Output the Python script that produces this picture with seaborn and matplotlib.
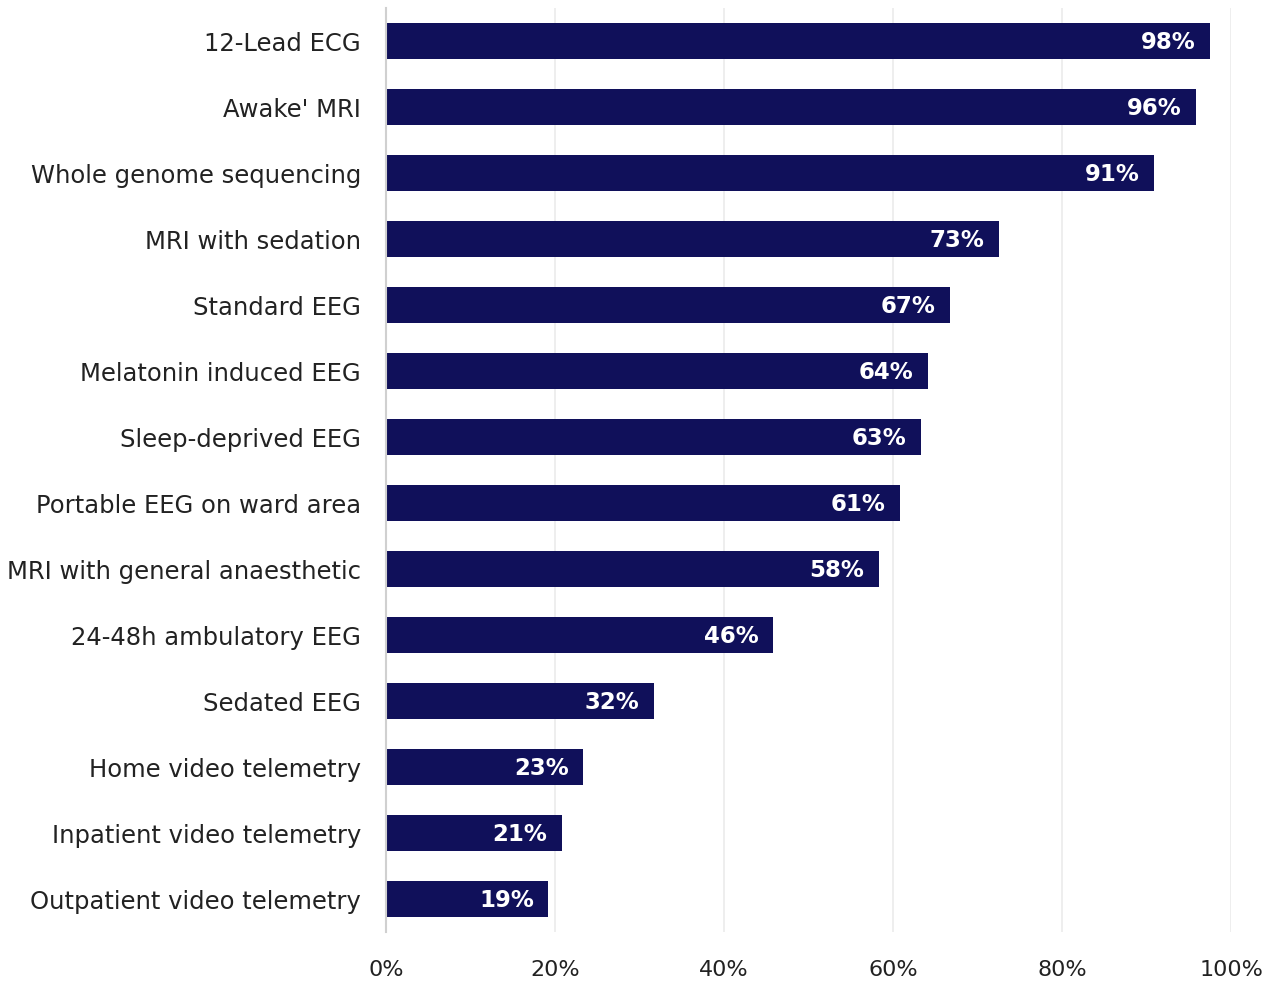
import pandas as pd
import seaborn as sns
import matplotlib.pyplot as plt
from matplotlib.ticker import PercentFormatter

# diagnostic tests availability, share of respondents
tests = ['12-Lead ECG', "Awake' MRI", 'Whole genome sequencing', 'MRI with sedation',
         'Standard EEG', 'Melatonin induced EEG', 'Sleep-deprived EEG',
         'Portable EEG on ward area', 'MRI with general anaesthetic',
         '24-48h ambulatory EEG', 'Sedated EEG', 'Home video telemetry',
         'Inpatient video telemetry', 'Outpatient video telemetry']
shares = [0.975, 0.959, 0.909, 0.725, 0.667, 0.641, 0.633, 0.608, 0.583,
          0.458, 0.317, 0.233, 0.208, 0.192]
labels = ['98%', '96%', '91%', '73%', '67%', '64%', '63%', '61%', '58%',
          '46%', '32%', '23%', '21%', '19%']

df = pd.DataFrame({'test': tests, 'share': shares, 'label': labels})

sns.set_style('white')
plt.rcParams['font.family'] = ['DejaVu Sans']

fig = plt.figure(figsize=(12.71, 9.83), dpi=100)
ax = fig.add_axes([386 / 1271, 1 - 932 / 983, 845 / 1271, 924 / 983])

sns.barplot(data=df, x='share', y='test', color='#10105a', saturation=1,
            width=0.56, linewidth=0, ax=ax)

# white bold value labels inside bar ends
for i, row in df.iterrows():
    ax.text(row['share'] - 0.017, i + 0.03, row['label'], color='white', fontsize=16.5,
            fontweight='bold', ha='right', va='center')

ax.set_xlim(0, 1)
ax.set_ylim(13.5, -0.5)
ax.set_xticks([0, 0.2, 0.4, 0.6, 0.8, 1.0])
ax.xaxis.set_major_formatter(PercentFormatter(1.0, decimals=0))
ax.grid(axis='x', color='#ebebeb', linewidth=1.2)
ax.set_axisbelow(True)
for s in ['top', 'right', 'bottom']:
    ax.spines[s].set_visible(False)
ax.spines['left'].set_color('#d0d0d0')
ax.spines['left'].set_linewidth(1.5)
ax.tick_params(axis='y', length=0, pad=18, labelsize=17.5, labelcolor='#222222')
ax.tick_params(axis='x', length=0, pad=20, labelsize=16, labelcolor='#222222')
ax.set_xlabel('')
ax.set_ylabel('')

fig.savefig('out.png', dpi=100)
